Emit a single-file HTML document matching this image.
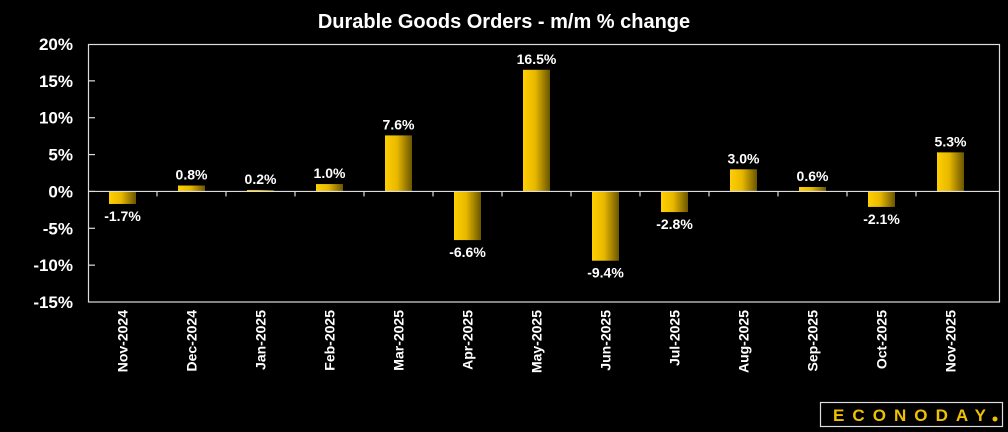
<!DOCTYPE html>
<html><head><meta charset="utf-8"><style>
body{margin:0;background:#000;}
svg{display:block;font-family:"Liberation Sans",sans-serif;}
</style></head><body>
<svg id="c" width="1008" height="432">
<defs><linearGradient id="g" x1="0" x2="1" y1="0" y2="0">
<stop offset="0" stop-color="#ffd000"/><stop offset="0.45" stop-color="#e8b800"/><stop offset="1" stop-color="#6a5500"/></linearGradient></defs>
<text x="504" y="28" fill="#fff" font-size="20" font-weight="bold" text-anchor="middle">Durable Goods Orders - m/m % change</text>
<rect x="88.5" y="44.5" width="911" height="257.5" fill="none" stroke="#ddd" stroke-width="1.2"/>
<g id="yax"></g><g id="bars"></g><g id="xax"></g>
<g>
<rect x="820.5" y="402.5" width="182" height="24" fill="#000" stroke="#ddd" stroke-width="1.2"/>
<text x="833" y="421" fill="#f0c000" font-size="17" font-weight="bold" textLength="153" lengthAdjust="spacing">ECONODAY</text>
<circle cx="995" cy="419" r="2.5" fill="#f0c000"/>
</g>
</svg>
<script>
const categories=["Nov-2024","Dec-2024","Jan-2025","Feb-2025","Mar-2025","Apr-2025","May-2025","Jun-2025","Jul-2025","Aug-2025","Sep-2025","Oct-2025","Nov-2025"];
const values=[-1.7,0.8,0.2,1.0,7.6,-6.6,16.5,-9.4,-2.8,3.0,0.6,-2.1,5.3];
const ticks=[20,15,10,5,0,-5,-10,-15];
const NS="http://www.w3.org/2000/svg";
const x0=88,step=69,bw=27;
function y(v){return 44+(20-v)*258/35;}
function xc(i){return x0+step*(i+0.5);}
function mk(t,a,p){const e=document.createElementNS(NS,t);for(const k in a)e.setAttribute(k,a[k]);p.appendChild(e);return e;}
const yax=document.getElementById('yax'),bars=document.getElementById('bars'),xax=document.getElementById('xax');
ticks.forEach(t=>{
 const l=mk('text',{x:73,y:y(t)+6,fill:'#fff','font-size':17,'font-weight':'bold','text-anchor':'end'},yax);
 l.textContent=t+'%';
 
 
 if(t<20&&t>-15){mk('line',{x1:88.5,x2:95,y1:y(t),y2:y(t),stroke:'#ddd','stroke-width':1.2},yax);}
});
mk('line',{x1:88.5,x2:999.5,y1:y(0),y2:y(0),stroke:'#ddd','stroke-width':1.2},xax);
categories.forEach((c,i)=>{
 const v=values[i];
 const top=Math.min(y(v),y(0)),h=Math.abs(y(v)-y(0));
 const b=mk('rect',{x:xc(i)-bw/2,y:top,width:bw,height:h,fill:'url(#g)'},bars);
 
 
 const ly=v>=0?y(v)-6:y(v)+17;
 const lab=mk('text',{x:xc(i),y:ly,fill:'#fff','font-size':14,'font-weight':'bold','text-anchor':'middle'},bars);
 lab.textContent=v.toFixed(1)+'%';
 
 
 if(i>0){mk('line',{x1:x0+step*i,x2:x0+step*i,y1:y(0),y2:y(0)+5,stroke:'#ddd','stroke-width':1.2},xax);}
 const xl=mk('text',{x:0,y:0,fill:'#fff','font-size':14,'font-weight':'bold','text-anchor':'end',transform:`translate(${xc(i)+5},310) rotate(-90)`},xax);
 xl.textContent=c;
 
 
});
</script>
</body></html>
